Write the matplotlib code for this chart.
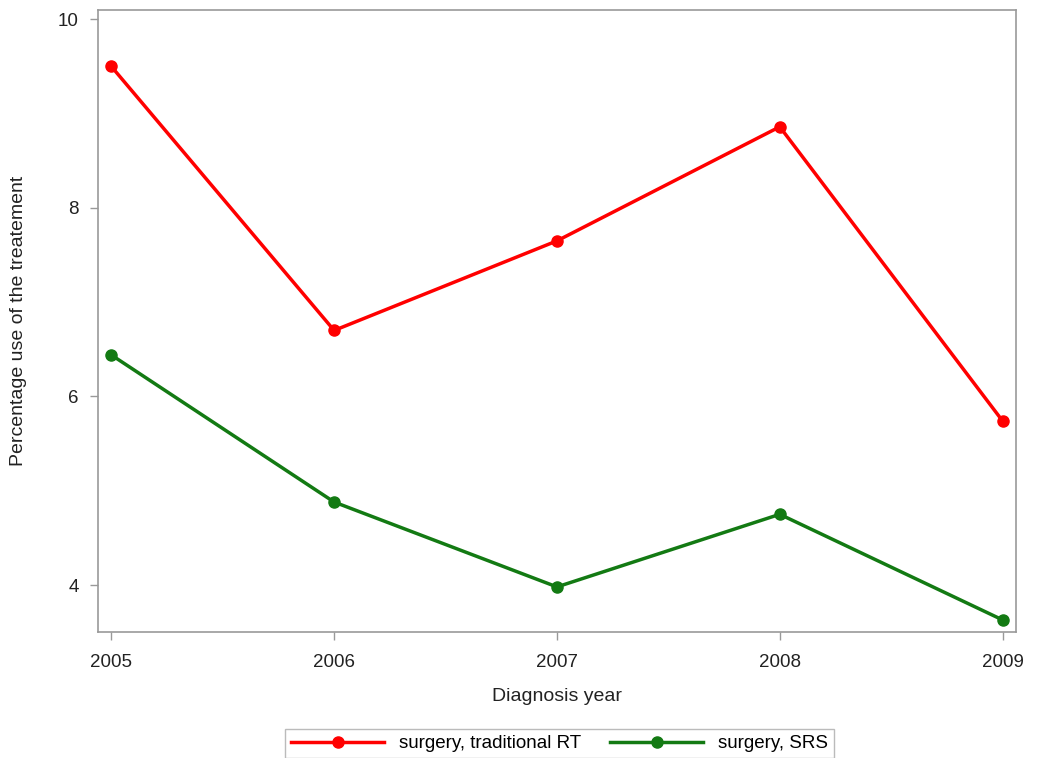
import matplotlib
matplotlib.use("Agg")
import matplotlib.pyplot as plt

years = [2005, 2006, 2007, 2008, 2009]
trad_rt = [9.50, 6.70, 7.65, 8.86, 5.74]
srs = [6.44, 4.88, 3.98, 4.75, 3.63]

plt.rcParams['font.family'] = ['Liberation Sans', 'DejaVu Sans']

fig = plt.figure(figsize=(10.42, 7.58), dpi=100)
ax = fig.add_axes([0.094, 0.166, 0.881, 0.821])

ax.plot(years, trad_rt, color='#ff0000', lw=2.5, marker='o', ms=8,
        label='surgery, traditional RT')
ax.plot(years, srs, color='#137a13', lw=2.5, marker='o', ms=8,
        label='surgery, SRS')

ax.set_xlim(2004.94, 2009.06)
ax.set_ylim(3.5, 10.1)
ax.set_xticks(years)
ax.set_yticks([4, 6, 8, 10])
ax.set_xlabel('Diagnosis year', fontsize=14, color='#222222', labelpad=12)
ax.set_ylabel('Percentage use of the treatement', fontsize=14, color='#222222', labelpad=22)
ax.tick_params(labelsize=13.5, colors='#222222', length=6, width=1)
ax.tick_params(axis='x', pad=10)
ax.tick_params(axis='y', pad=8)
for s in ax.spines.values():
    s.set_color('#999999')
    s.set_linewidth(1.2)
ax.tick_params(color='#999999')

leg = fig.legend(loc='center', bbox_to_anchor=(0.537, 0.019), ncol=2, fontsize=13.5,
                 frameon=True, fancybox=False, edgecolor='#aaaaaa',
                 handlelength=5, columnspacing=1.5, borderpad=0.3)
leg.get_frame().set_linewidth(1)

fig.savefig('out.png', dpi=100)
